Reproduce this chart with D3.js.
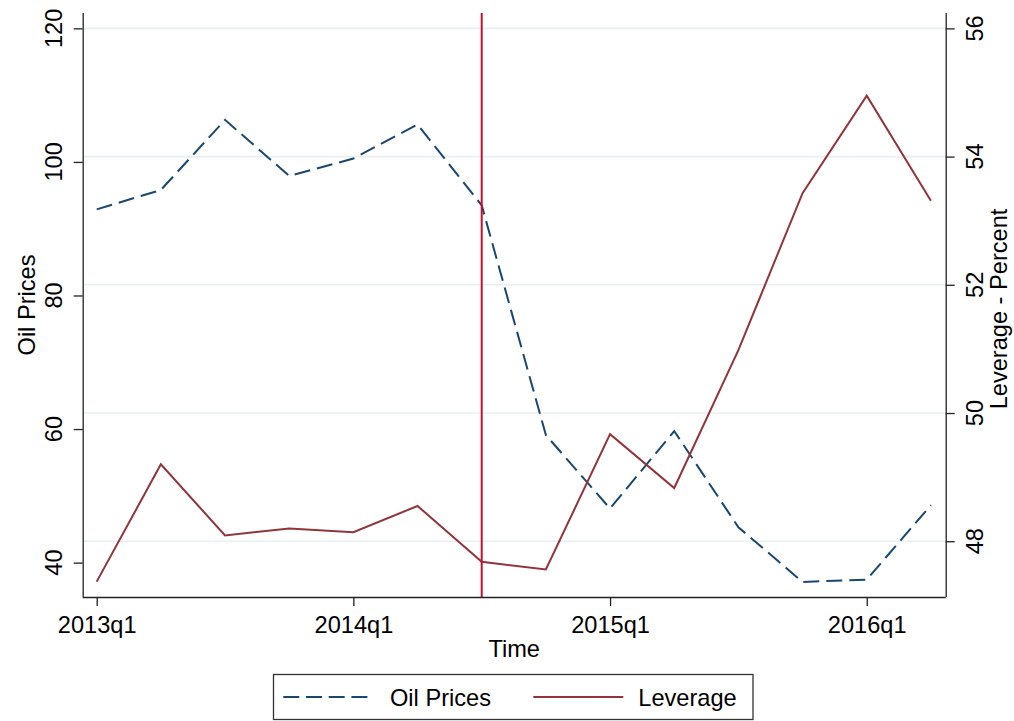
<!DOCTYPE html>
<html>
<head>
<meta charset="utf-8">
<script src="https://cdn.jsdelivr.net/npm/d3@7"></script>
<style>
  html, body { margin: 0; padding: 0; background: #fff; }
  svg text { font-family: "Liberation Sans", Arial, Helvetica, sans-serif; fill: #000; }
</style>
</head>
<body>
<svg id="chart" width="1014" height="721"></svg>
<script>
// ---- data ----
const quarters = ["2013q1","2013q2","2013q3","2013q4","2014q1","2014q2","2014q3","2014q4",
                  "2015q1","2015q2","2015q3","2015q4","2016q1","2016q2"];
const oilPrices = [92.9, 95.8, 106.3, 97.9, 100.5, 105.6, 93.5, 59.1, 48.1, 59.7, 45.3, 37.1, 37.45, 48.6];
const leverage  = [47.37, 49.20, 48.09, 48.20, 48.14, 48.55, 47.68, 47.56, 49.67, 48.83, 50.98, 53.43, 54.95, 53.31];
const xTickLabels = ["2013q1","2014q1","2015q1","2016q1"];
const leftTicks = [40, 60, 80, 100, 120];
const rightTicks = [48, 50, 52, 54, 56];
const eventQuarter = "2014q3";

// ---- layout ----
const svg = d3.select("#chart");
const plot = { left: 82.7, right: 945.7, top: 13, bottom: 597 };
const FS = 23.6;
const C_OIL = "#1a476f", C_LEV = "#90353b", C_EVT = "#c8102e", C_GRID = "#e8eff2", C_AX = "#222";

const x = d3.scaleLinear().domain([0, quarters.length - 1]).range([96.7, 930.9]);
const yL = d3.scaleLinear().domain([34.85, 122.3]).range([plot.bottom, plot.top]);
const yR = d3.scaleLinear().domain([47.13, 56.24]).range([plot.bottom, plot.top]);

// gridlines (right axis)
svg.append("g").selectAll("line").data(rightTicks).join("line")
  .attr("x1", plot.left + 1).attr("x2", plot.right - 1)
  .attr("y1", d => yR(d)).attr("y2", d => yR(d))
  .attr("stroke", C_GRID).attr("stroke-width", 1.6);

// series
const lineOil = d3.line().x((d, i) => x(i)).y(d => yL(d));
const lineLev = d3.line().x((d, i) => x(i)).y(d => yR(d));

svg.append("path").datum(oilPrices).attr("d", lineOil)
  .attr("fill", "none").attr("stroke", C_OIL).attr("stroke-width", 2)
  .attr("stroke-dasharray", "16,7").attr("stroke-linejoin", "miter");
svg.append("path").datum(leverage).attr("d", lineLev)
  .attr("fill", "none").attr("stroke", C_LEV).attr("stroke-width", 2);

// event line
const ei = quarters.indexOf(eventQuarter);
svg.append("line").attr("x1", x(ei)).attr("x2", x(ei))
  .attr("y1", plot.top).attr("y2", plot.bottom)
  .attr("stroke", C_EVT).attr("stroke-width", 2);

// axes
const xAxis = d3.axisBottom(x)
  .tickValues(xTickLabels.map(q => quarters.indexOf(q)))
  .tickFormat(i => quarters[i]).tickSize(9).tickPadding(10.4).tickSizeOuter(0);
const gx = svg.append("g").attr("transform", `translate(0,${plot.bottom})`).call(xAxis);
gx.select(".domain").attr("d", `M${plot.left},0.5H${plot.right}`);
gx.selectAll("line").attr("stroke", C_AX).attr("stroke-width", 1.3);
gx.select(".domain").attr("stroke", C_AX).attr("stroke-width", 1.3);
gx.selectAll("text").attr("font-size", FS).style("font-family", "'Liberation Sans', Arial, sans-serif").attr("fill", "#000");

const yAxisL = d3.axisLeft(yL).tickValues(leftTicks).tickSize(9).tickFormat("").tickSizeOuter(0);
const gl = svg.append("g").attr("transform", `translate(${plot.left},0)`).call(yAxisL);
gl.select(".domain").attr("d", `M0.5,${plot.top}V${plot.bottom}`).attr("stroke", C_AX).attr("stroke-width", 1.3);
gl.selectAll("line").attr("stroke", C_AX).attr("stroke-width", 1.3);
svg.append("g").selectAll("text").data(leftTicks).join("text")
  .attr("transform", d => `translate(${plot.left - 21},${yL(d)}) rotate(-90)`)
  .attr("text-anchor", "middle").attr("font-size", FS).text(d => d);

const yAxisR = d3.axisRight(yR).tickValues(rightTicks).tickSize(9).tickFormat("").tickSizeOuter(0);
const gr = svg.append("g").attr("transform", `translate(${plot.right},0)`).call(yAxisR);
gr.select(".domain").attr("d", `M0.5,${plot.top}V${plot.bottom}`).attr("stroke", C_AX).attr("stroke-width", 1.3);
gr.selectAll("line").attr("stroke", C_AX).attr("stroke-width", 1.3);
svg.append("g").selectAll("text").data(rightTicks).join("text")
  .attr("transform", d => `translate(${plot.right + 37.5},${yR(d)}) rotate(-90)`)
  .attr("text-anchor", "middle").attr("font-size", FS).text(d => d);

// axis titles
svg.append("text").attr("transform", `translate(35,${(plot.top + plot.bottom) / 2}) rotate(-90)`)
  .attr("text-anchor", "middle").attr("font-size", FS).text("Oil Prices");
svg.append("text").attr("transform", `translate(1007,${(plot.top + plot.bottom) / 2 + 4}) rotate(-90)`)
  .attr("text-anchor", "middle").attr("font-size", FS).text("Leverage - Percent");
svg.append("text").attr("x", (plot.left + plot.right) / 2).attr("y", 657)
  .attr("text-anchor", "middle").attr("font-size", FS).text("Time");

// legend
const lg = svg.append("g");
lg.append("rect").attr("x", 273.5).attr("y", 674.5).attr("width", 479.5).attr("height", 45)
  .attr("fill", "#fff").attr("stroke", "#333").attr("stroke-width", 1.3);
const legendItems = [
  { name: "Oil Prices", color: C_OIL, dash: "16,6.7", x0: 283.3, x1: 368, tx: 390 },
  { name: "Leverage", color: C_LEV, dash: null, x0: 533.3, x1: 623.3, tx: 638.3 }
];
legendItems.forEach(it => {
  lg.append("line").attr("x1", it.x0).attr("x2", it.x1).attr("y1", 697).attr("y2", 697)
    .attr("stroke", it.color).attr("stroke-width", 2).attr("stroke-dasharray", it.dash);
  lg.append("text").attr("x", it.tx).attr("y", 706).attr("font-size", FS).text(it.name);
});
</script>
</body>
</html>
